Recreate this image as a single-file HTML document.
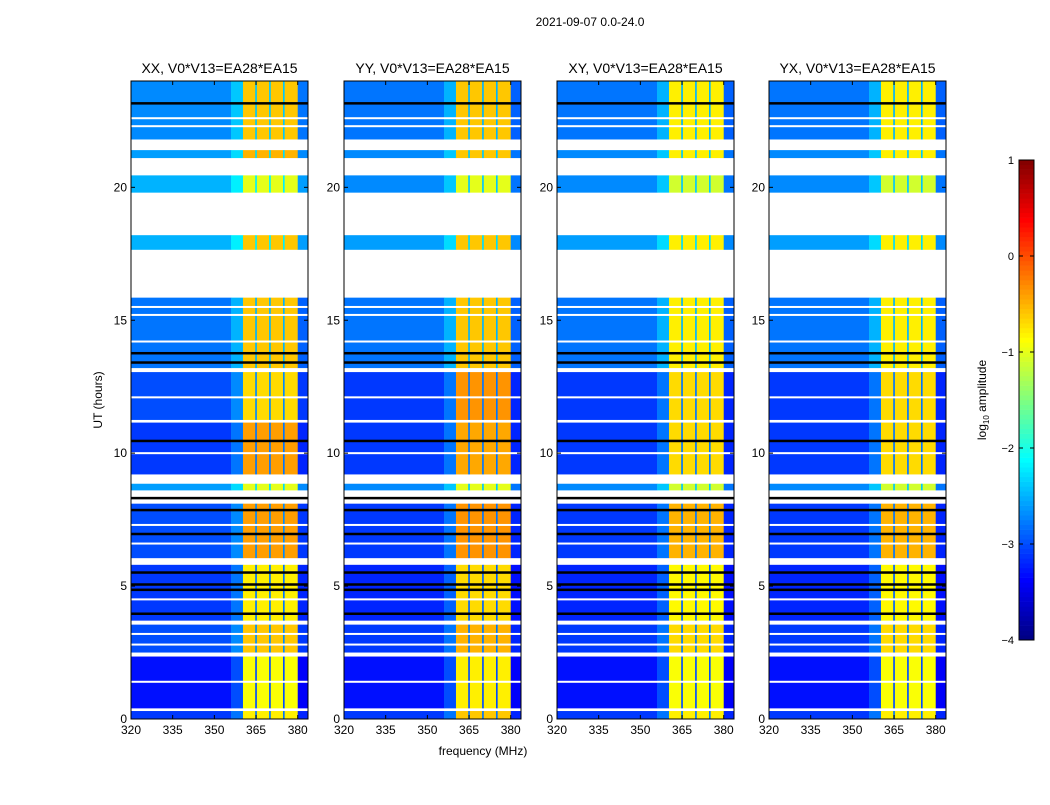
<!DOCTYPE html>
<html><head><meta charset="utf-8"><style>
body{margin:0;background:#fff;}
svg text{font-family:"Liberation Sans",sans-serif;fill:#000;}
</style></head><body>
<svg id="fig" width="1050" height="800" xmlns="http://www.w3.org/2000/svg">
<rect width="1050" height="800" fill="#fff"/>
<text x="590" y="26" font-size="12" text-anchor="middle">2021-09-07 0.0-24.0</text>
<text x="483" y="755" font-size="12" text-anchor="middle">frequency (MHz)</text>
<text transform="translate(102,400) rotate(-90)" font-size="12" text-anchor="middle">UT (hours)</text>
<g id="panels"></g>
<g id="cbar"></g>
</svg>
<script>
const panelNames=["XX, V0*V13=EA28*EA15","YY, V0*V13=EA28*EA15","XY, V0*V13=EA28*EA15","YX, V0*V13=EA28*EA15"];
const panelLefts=[131,344,557,769];
const blockStarts=[0,0.4,2.5,3.7,6.05,8.6,9.2,11.25,13.2,17.65,19.8,21.1,21.8];
const blockEnds=[0.3,2.35,3.55,5.8,8.1,8.85,11.15,13.05,15.85,18.2,20.45,21.4,24];
const bandXX=[-0.8,-0.9,-0.6,-0.8,-0.4,-1.0,-0.4,-0.7,-0.6,-0.6,-1.0,-0.5,-0.6];
const bandYY=[-0.6,-0.8,-0.5,-0.7,-0.35,-1.0,-0.45,-0.35,-0.6,-0.6,-1.0,-0.6,-0.6];
const bandXY=[-0.8,-0.9,-0.7,-0.85,-0.5,-1.1,-0.7,-0.7,-0.8,-0.8,-1.1,-0.8,-0.8];
const bandYX=[-0.8,-0.9,-0.7,-0.85,-0.5,-1.1,-0.7,-0.7,-0.8,-0.8,-1.1,-0.8,-0.8];
const bgXX=[-3.1,-3.3,-3.0,-3.1,-3.0,-2.6,-3.1,-3.0,-2.8,-2.5,-2.5,-2.6,-2.7];
const bgYY=[-3.1,-3.3,-3.1,-3.2,-3.1,-2.7,-3.1,-3.1,-2.8,-2.6,-2.7,-2.7,-2.8];
const bgXY=[-3.1,-3.3,-3.1,-3.2,-3.1,-2.7,-3.1,-3.1,-2.8,-2.6,-2.7,-2.7,-2.8];
const bgYX=[-3.1,-3.3,-3.1,-3.2,-3.1,-2.7,-3.1,-3.1,-2.8,-2.6,-2.7,-2.7,-2.8];
const freqEdges=[320,356,360.3,364.7,365.3,369.7,370.3,374.7,375.3,380,383.7];
const freqKinds=["bg","shoulder","band","line","band","line","band","line","band","bg"];
const blackLines=[23.15,13.4,10.45,7.85,6.95,5.5,5.05,4.85,3.95,8.3,13.75];
const whiteLines=[22.6,22.3,15.5,15.2,14.2,12.1,10.0,7.3,6.6,4.5,3.2,1.4,2.8];
const xTicks=[320,335,350,365,380];
const yTicks=[0,5,10,15,20];
const cbarTicks=[1,0,-1,-2,-3,-4];

const bands=[bandXX,bandYY,bandXY,bandYX];
const bgs=[bgXX,bgYY,bgXY,bgYX];
const PW=177,TOP=81,BOT=719;
const xs=f=>(f-320)/(383.7-320)*PW;
const ys=h=>BOT-(h/24)*(BOT-TOP);
function jet(v){
 let t=(v+4)/5; t=Math.max(0,Math.min(1,t));
 const c=x=>Math.round(255*Math.max(0,Math.min(1,x)));
 const r=c(Math.min(4*t-1.5,-4*t+4.5)),g=c(Math.min(4*t-0.5,-4*t+3.5)),b=c(Math.min(4*t+0.5,-4*t+2.5));
 return `rgb(${r},${g},${b})`;
}
const NS="http://www.w3.org/2000/svg";
function mk(tag,at,parent){const e=document.createElementNS(NS,tag);for(const k in at)e.setAttribute(k,at[k]);parent.appendChild(e);return e;}
const root=document.getElementById('panels');
panelNames.forEach((name,p)=>{
 const L=panelLefts[p];
 const g=mk('g',{transform:`translate(${L},0)`},root);
 
 
 blockStarts.forEach((s,i)=>{
  const e=blockEnds[i];
  for(let k=0;k<freqKinds.length;k++){
   const kind=freqKinds[k];
   let v=bgs[p][i];
   if(kind==="band")v=bands[p][i];
   else if(kind==="line")v=bgs[p][i]+0.3;
   else if(kind==="shoulder")v=bgs[p][i]+0.3;
   if(k===freqKinds.length-1)v=bgs[p][i]-0.1;
   const r=mk('rect',{x:xs(freqEdges[k]),y:ys(e),width:xs(freqEdges[k+1])-xs(freqEdges[k])+0.3,height:ys(s)-ys(e),fill:jet(v)},g);
   
   
  }
 });
 whiteLines.forEach(h=>{const r=mk('rect',{x:0,y:ys(h)-1,width:PW,height:2,fill:'#fff'},g);
  
  });
 blackLines.forEach(h=>{const r=mk('rect',{x:0,y:ys(h)-1.5,width:PW,height:2.5,fill:'#000'},g);
  
  });
 const fr=mk('rect',{x:0,y:TOP,width:PW,height:BOT-TOP,fill:'none',stroke:'#000','stroke-width':1},g);
 
 
 const t=mk('text',{x:PW/2,y:73,'font-size':14,'text-anchor':'middle'},g);t.textContent=name;
 
 
 xTicks.forEach(f=>{const x=xs(f);
  mk('line',{x1:x,x2:x,y1:BOT,y2:BOT-4,stroke:'#000'},g);mk('line',{x1:x,x2:x,y1:TOP,y2:TOP+4,stroke:'#000'},g);
  const tx=mk('text',{x:x,y:BOT+15,'font-size':12,'text-anchor':'middle'},g);tx.textContent=f;
  
  });
 yTicks.forEach(h=>{const y=ys(h);
  mk('line',{x1:0,x2:4,y1:y,y2:y,stroke:'#000'},g);mk('line',{x1:PW,x2:PW-4,y1:y,y2:y,stroke:'#000'},g);
  const ty=mk('text',{x:-4,y:y+4,'font-size':12,'text-anchor':'end'},g);ty.textContent=h;
  
  });
});
const cb=document.getElementById('cbar');
const CT=160,CB=640,CX=1019,CW=15;
const cy=v=>CB-(v+4)/5*(CB-CT);
for(let i=0;i<100;i++){const v0=-4+i*0.05;
 const r=mk('rect',{x:CX,y:cy(v0+0.05),width:CW,height:cy(v0)-cy(v0+0.05)+0.3,fill:jet(v0+0.025)},cb);
 
 }
const cf=mk('rect',{x:CX,y:CT,width:CW,height:CB-CT,fill:'none',stroke:'#000'},cb);


cbarTicks.forEach(v=>{const y=cy(v);
 mk('line',{x1:CX,x2:CX+4,y1:y,y2:y,stroke:'#000'},cb);mk('line',{x1:CX+CW,x2:CX+CW-4,y1:y,y2:y,stroke:'#000'},cb);
 const t=mk('text',{x:CX-5,y:y+4,'font-size':11,'text-anchor':'end'},cb);t.textContent=v<0?'\u2212'+(-v):String(v);
 
 });
const cl=mk('text',{transform:'translate(986,400) rotate(-90)','font-size':12,'text-anchor':'middle'},cb);


cl.innerHTML='log<tspan font-size="8" dy="3">10</tspan><tspan dy="-3"> amplitude</tspan>';
</script>
</body></html>
